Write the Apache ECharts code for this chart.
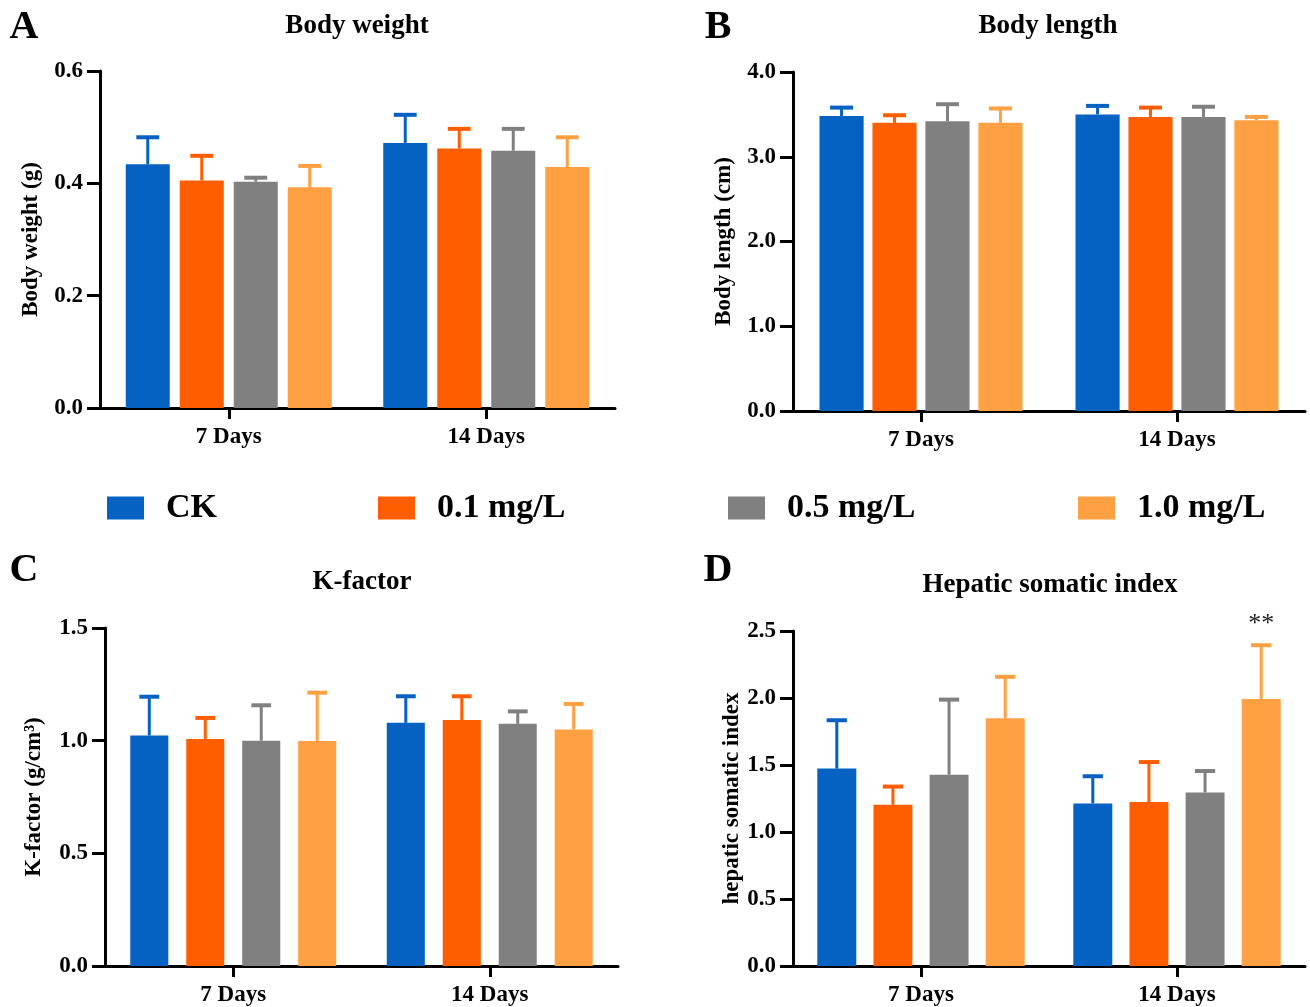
<!DOCTYPE html>
<html>
<head>
<meta charset="utf-8">
<script src="https://cdn.jsdelivr.net/npm/echarts@6/dist/echarts.min.js"></script>
<style>
html,body{margin:0;padding:0;background:#fff;}
#chart{width:1310px;height:1007px;}
</style>
</head>
<body>
<div id="chart"></div>
<script>
// ---------- data ----------
const categories = ['7 Days', '14 Days'];
const groups = ['CK', '0.1 mg/L', '0.5 mg/L', '1.0 mg/L'];
const colors = ['#0562C3', '#FF5E00', '#808080', '#FFA142'];

// means [7 Days, 14 Days] per group, and upper SD
const weightMean = [[0.434, 0.472], [0.405, 0.462], [0.403, 0.458], [0.393, 0.429]];
const weightSD   = [[0.048, 0.050], [0.044, 0.035], [0.007, 0.039], [0.038, 0.053]];

const lengthMean = [[3.48, 3.50], [3.40, 3.47], [3.42, 3.47], [3.40, 3.43]];
const lengthSD   = [[0.10, 0.10], [0.09, 0.11], [0.20, 0.12], [0.17, 0.04]];

const kMean = [[1.023, 1.079], [1.007, 1.092], [1.000, 1.075], [0.998, 1.050]];
const kSD   = [[0.172, 0.118], [0.094, 0.105], [0.157, 0.055], [0.215, 0.113]];

const hsiMean = [[1.473, 1.213], [1.203, 1.223], [1.428, 1.295], [1.849, 1.993]];
const hsiSD   = [[0.361, 0.203], [0.136, 0.299], [0.560, 0.160], [0.309, 0.401]];
const hsiSig  = [['', ''], ['', ''], ['', ''], ['', '**']];

const weightTicks = { min: 0, max: 0.6, interval: 0.2 };
const lengthTicks = { min: 0, max: 4.0, interval: 1.0 };
const kTicks      = { min: 0, max: 1.5, interval: 0.5 };
const hsiTicks    = { min: 0, max: 2.5, interval: 0.5 };

// ---------- layout ----------
const FONT = '"Liberation Serif", "Times New Roman", serif';
const panels = [
  { letter: 'A', title: 'Body weight', yName: 'Body weight (g)', mean: weightMean, sd: weightSD, ticks: weightTicks,
    grid: { left: 100, top: 71, width: 515, height: 337 }, gap: 0.227, catGap: 0.20, nameGap: 57,
    titlePos: [357, 26], letterPos: [24, 28] },
  { letter: 'B', title: 'Body length', yName: 'Body length (cm)', mean: lengthMean, sd: lengthSD, ticks: lengthTicks,
    grid: { left: 793, top: 72, width: 512, height: 339 }, gap: 0.20, catGap: 0.207, nameGap: 57,
    titlePos: [1048, 26], letterPos: [718, 28] },
  { letter: 'C', title: 'K-factor', yName: 'K-factor (g/cm³)', mean: kMean, sd: kSD, ticks: kTicks,
    grid: { left: 105, top: 628, width: 513, height: 340 }, gap: 0.47, catGap: 0.197, nameGap: 59,
    titlePos: [362, 582], letterPos: [24, 571] },
  { letter: 'D', title: 'Hepatic somatic index', yName: 'hepatic somatic index', mean: hsiMean, sd: hsiSD, sig: hsiSig, ticks: hsiTicks,
    grid: { left: 793, top: 631, width: 512, height: 337 }, gap: 0.44, catGap: 0.19, nameGap: 47,
    titlePos: [1050, 585], letterPos: [718, 571] }
];

const grids = [], xAxes = [], yAxes = [], series = [], graphics = [];

panels.forEach((p, pi) => {
  grids.push(Object.assign({ containLabel: false }, p.grid));
  xAxes.push({
    type: 'category', gridIndex: pi, data: categories,
    axisLine: { show: true, lineStyle: { color: '#000', width: 3 } },
    axisTick: { show: true, alignWithLabel: true, length: 11, lineStyle: { color: '#000', width: 3 } },
    axisLabel: { color: '#000', fontFamily: FONT, fontWeight: 'bold', fontSize: 23, margin: 18 },
    splitLine: { show: false }
  });
  yAxes.push({
    type: 'value', gridIndex: pi, min: p.ticks.min, max: p.ticks.max, interval: p.ticks.interval,
    name: p.yName, nameLocation: 'middle', nameGap: p.nameGap,
    nameTextStyle: { color: '#000', fontFamily: FONT, fontWeight: 'bold', fontSize: 23 },
    axisLine: { show: true, lineStyle: { color: '#000', width: 3 } },
    axisTick: { show: true, length: 13, lineStyle: { color: '#000', width: 3 } },
    axisLabel: { color: '#000', fontFamily: FONT, fontWeight: 'bold', fontSize: 23, margin: 17,
      formatter: v => v.toFixed(1) },
    splitLine: { show: false }
  });
  groups.forEach((g, k) => {
    series.push({
      type: 'bar', name: g, xAxisIndex: pi, yAxisIndex: pi,
      data: p.mean[k], barGap: (p.gap * 100) + '%', barCategoryGap: (p.catGap * 100) + '%',
      itemStyle: { color: colors[k] }, emphasis: { disabled: true }, animation: false
    });
  });
  groups.forEach((g, k) => {
    const data = categories.map((c, ci) => [ci, p.mean[k][ci], p.sd[k][ci]]);
    series.push({
      type: 'custom', name: g + ' SD', xAxisIndex: pi, yAxisIndex: pi, data: data, z: 3,
      clip: false, animation: false, silent: true,
      encode: { x: 0, y: 1 },
      renderItem: function (params, api) {
        const ci = api.value(0), m = api.value(1), sd = api.value(2);
        const B = api.size([1, 0])[0];
        const w = (B * (1 - p.catGap)) / (4 + 3 * p.gap);
        const off = -(4 * w + 3 * p.gap * w) / 2 + k * (w + p.gap * w) + w / 2;
        const p0 = api.coord([ci, m]);
        const p1 = api.coord([ci, m + sd]);
        const x = p0[0] + off;
        const half = w * 0.26;
        const ch = [
          { type: 'line', shape: { x1: x, y1: p0[1], x2: x, y2: p1[1] + 1 }, style: { stroke: colors[k], lineWidth: 3 } },
          { type: 'line', shape: { x1: x - half, y1: p1[1], x2: x + half, y2: p1[1] }, style: { stroke: colors[k], lineWidth: 4 } }
        ];
        const s = p.sig ? p.sig[k][ci] : '';
        if (s) {
          ch.push({ type: 'text', x: x, y: p1[1] - 8,
            style: { text: s, fill: '#222', font: '26px ' + FONT, textAlign: 'center', textVerticalAlign: 'bottom' } });
        }
        return { type: 'group', children: ch };
      }
    });
  });
  graphics.push({ type: 'text', x: p.titlePos[0], y: p.titlePos[1],
    style: { text: p.title, fill: '#000', font: 'bold 27px ' + FONT, textAlign: 'center', textVerticalAlign: 'middle' } });
  graphics.push({ type: 'text', x: p.letterPos[0], y: p.letterPos[1],
    style: { text: p.letter, fill: '#000', font: 'bold 40px ' + FONT, textAlign: 'center', textVerticalAlign: 'middle' } });
});

const legendLeft = [102, 373, 723, 1073];
const legends = groups.map((g, k) => ({
  data: [g], left: legendLeft[k], top: 486, orient: 'horizontal',
  icon: 'rect', itemWidth: 37, itemHeight: 23, selectedMode: false,
  textStyle: { color: '#000', fontFamily: FONT, fontWeight: 'bold', fontSize: 34, padding: [0, 0, 0, 17] }
}));

const chart = echarts.init(document.getElementById('chart'), null, { renderer: 'canvas' });
chart.setOption({
  backgroundColor: '#fff',
  animation: false,
  grid: grids, xAxis: xAxes, yAxis: yAxes, series: series,
  legend: legends, graphic: graphics
});
</script>
</body>
</html>
